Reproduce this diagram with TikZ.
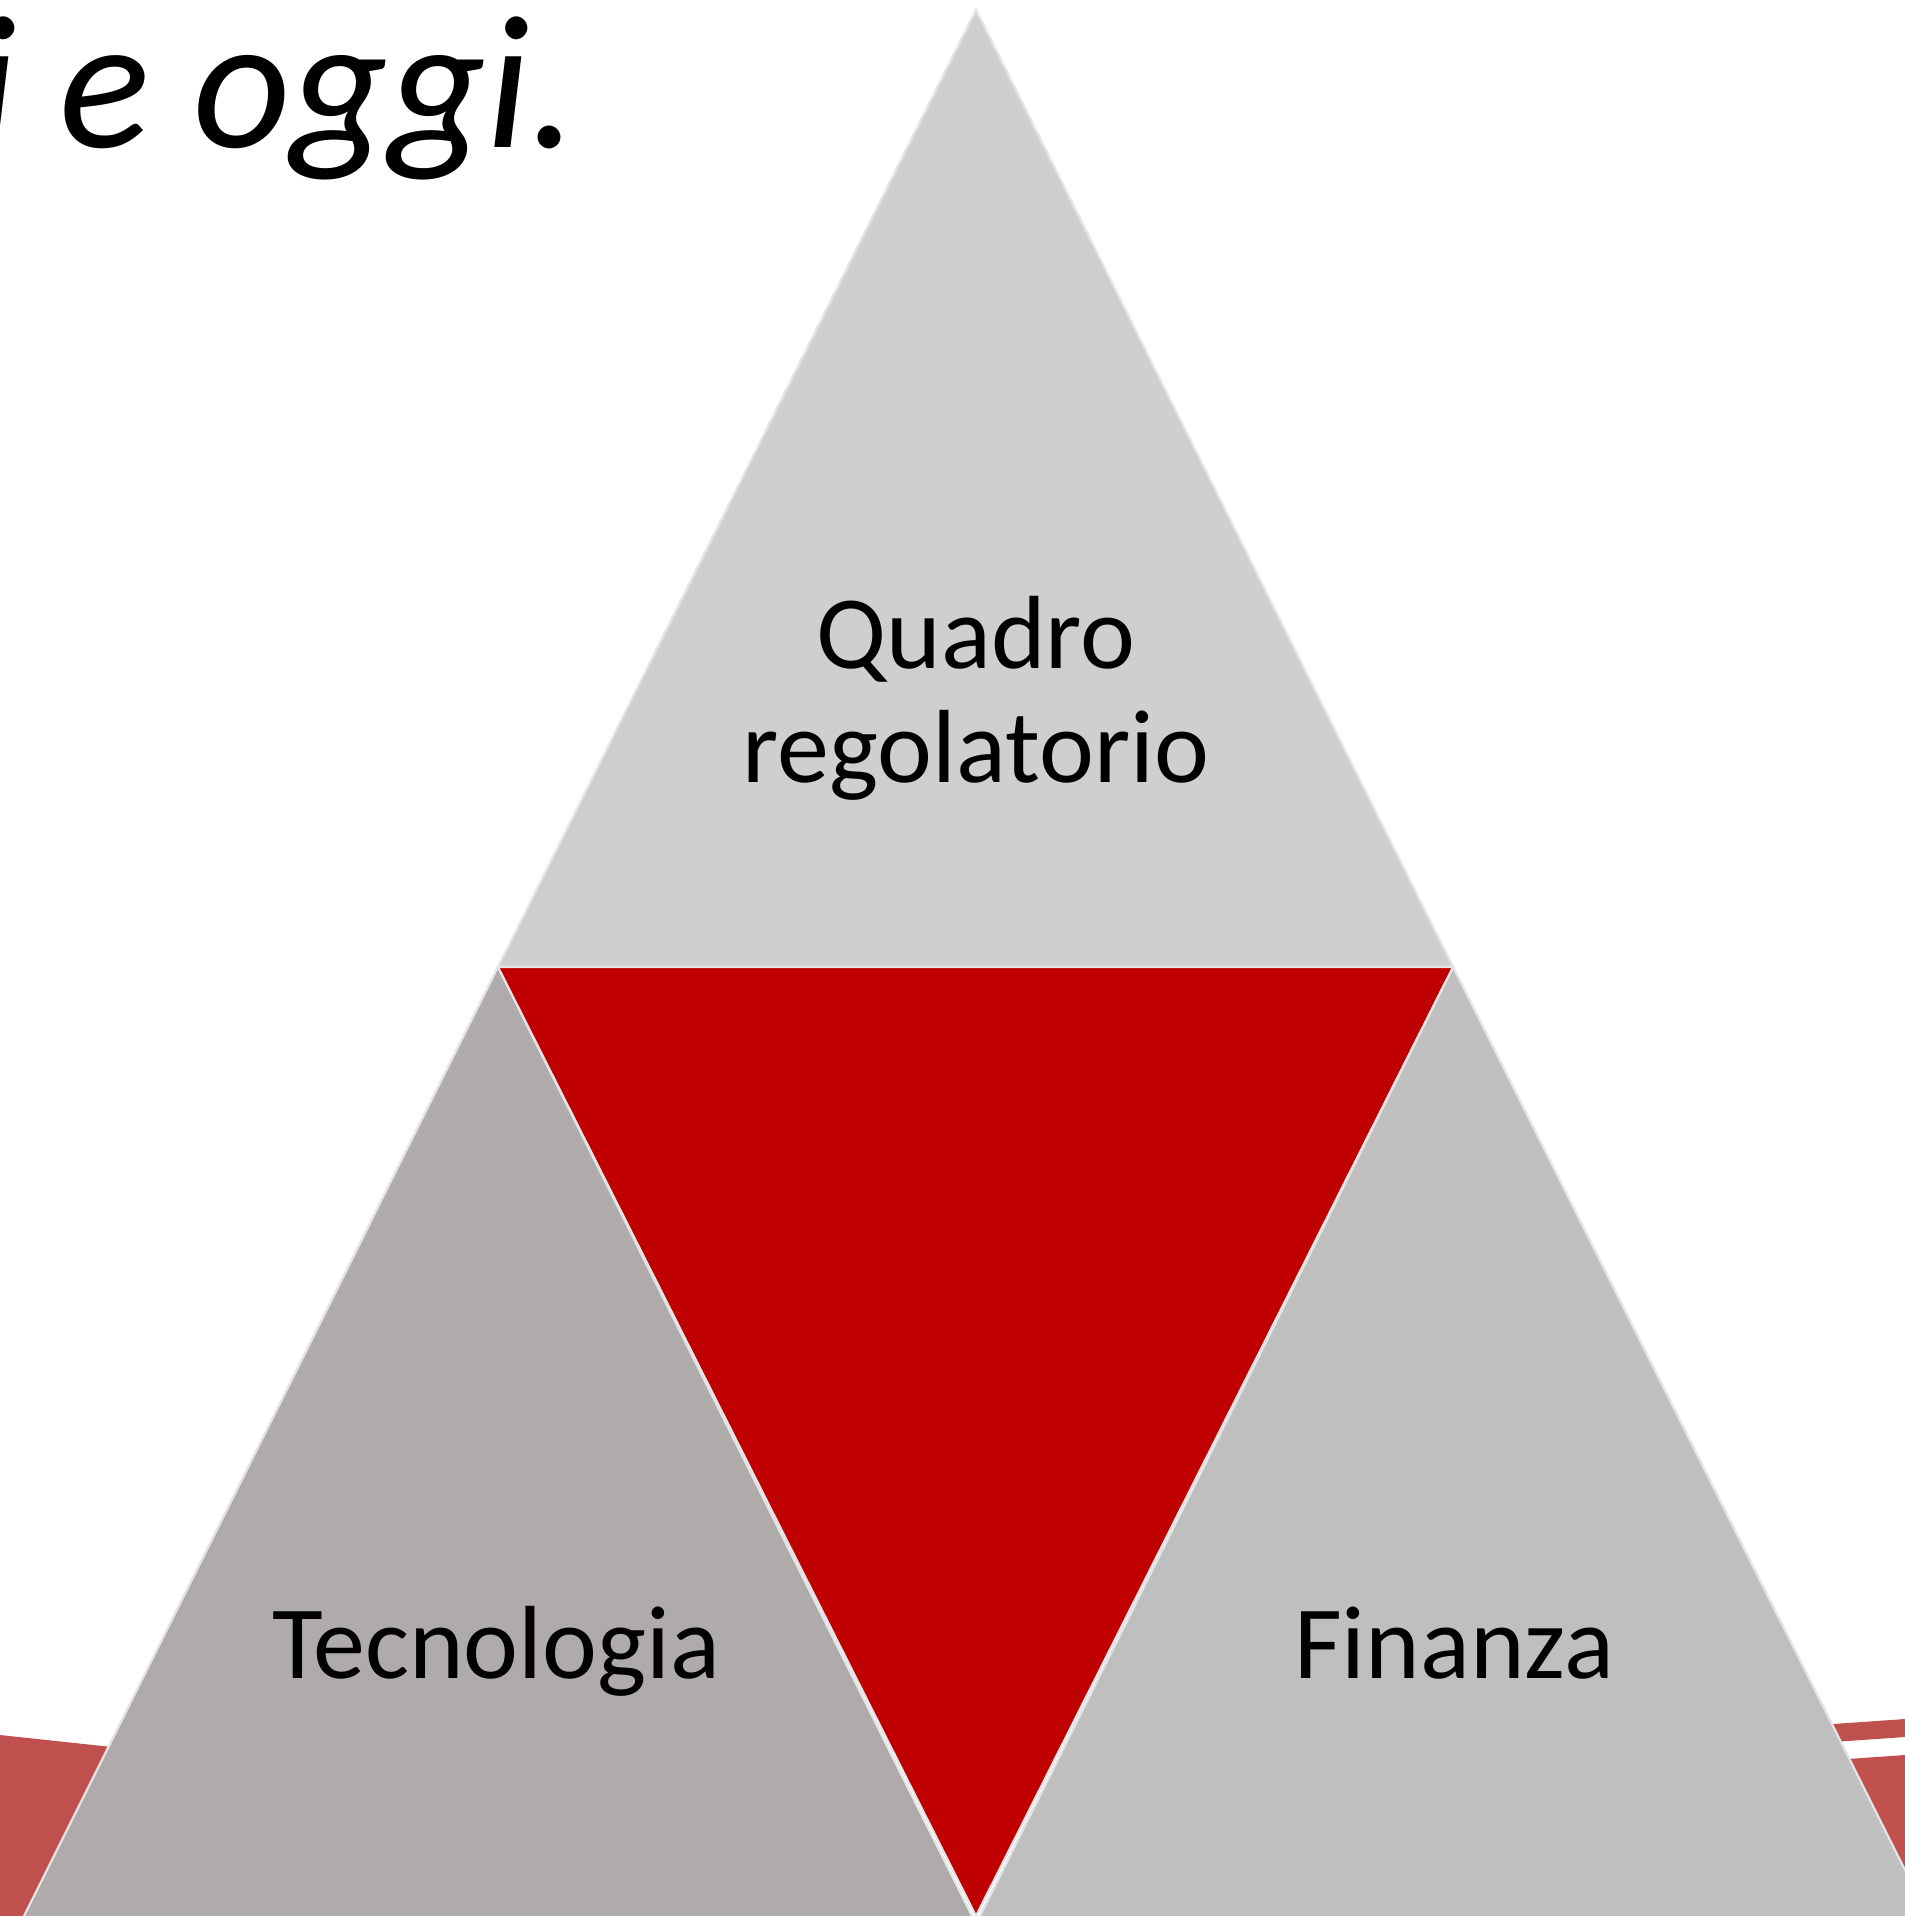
\documentclass[tikz,border=0pt]{standalone}
\usepackage{fontspec}
\setmainfont{Carlito}
\definecolor{topgray}{HTML}{D0CECE}
\definecolor{leftgray}{HTML}{AFABAB}
\definecolor{rightgray}{HTML}{BFBFBF}
\definecolor{deepred}{HTML}{C00000}
\definecolor{swoosh}{HTML}{C0504D}
\definecolor{edge}{HTML}{E4E4E4}
\tikzset{
  tri/.style={draw=edge, line width=2.2pt, line join=miter},
  lbl/.style={inner sep=0pt, anchor=base, text=black, font=\fontsize{104}{114}\selectfont},
}
\begin{document}
\begin{tikzpicture}[x=1pt,y=-1pt]
\useasboundingbox (0,0) rectangle (1905,1916);
\clip (0,0) rectangle (1905,1916);
\fill[white] (0,0) rectangle (1905,1916);
% background swooshes
\fill[swoosh] (0,1735) -- (140,1750) -- (140,1916) -- (0,1916) -- cycle;
\fill[swoosh] (1790,1727) -- (1905,1719) -- (1905,1737) -- (1790,1745) -- cycle;
\fill[swoosh] (1790,1763) -- (1905,1755) -- (1905,1916) -- (1790,1916) -- cycle;
% triangles
\filldraw[tri, fill=leftgray] (498,967) -- (17,1930) -- (979,1930) -- cycle;
\filldraw[tri, fill=rightgray] (1453,967) -- (973,1930) -- (1935,1930) -- cycle;
\filldraw[tri, fill=topgray] (976,10) -- (498,967) -- (1453,967) -- cycle;
\filldraw[tri, fill=deepred] (498,967) -- (1453,967) -- (976,1916) -- cycle;
% labels
\node[lbl, align=center] (quadro) at (976,782) {Quadro\\regolatorio};
\node[lbl] (tec) at (496,1678) {Tecnologia};
\node[lbl] (fin) at (1454,1678) {Finanza};
% title fragment
\node[inner sep=0pt, anchor=base east, font=\fontsize{190}{228}\selectfont\itshape] (title) at (578,147) {ri e oggi.};
\end{tikzpicture}
\end{document}
